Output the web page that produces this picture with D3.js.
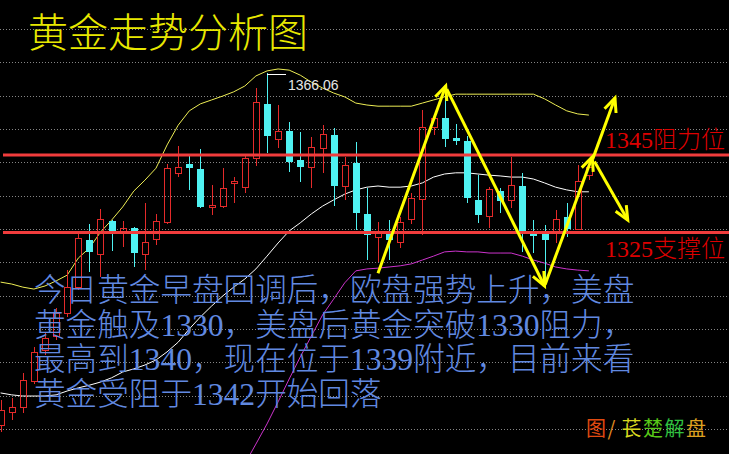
<!DOCTYPE html>
<html>
<head>
<meta charset="utf-8">
<script src="https://cdn.jsdelivr.net/npm/d3@7"></script>
<style>
  html, body { margin: 0; padding: 0; background: #000; overflow: hidden; }
  svg { display: block; }
</style>
</head>
<body>
<svg id="chart" width="729" height="454"></svg>
<script>
// ---- candle data (one entry per bar, oldest first) ----
const opens = [1275.3, 1278.7, 1280.0, 1286.7, 1294.7, 1298.3, 1304.2, 1310.9, 1323.1, 1319.5,
  1328.0, 1325.4, 1326.2, 1319.5, 1323.3, 1327.7, 1340.4, 1342.7, 1341.4, 1331.7,
  1331.8, 1337.8, 1336.7, 1344.2, 1358.2, 1349.1, 1351.2, 1343.7, 1341.9, 1346.8,
  1350.2, 1337.0, 1342.9, 1329.8, 1323.8, 1324.9, 1322.5, 1328.5, 1333.6, 1352.2,
  1354.5, 1349.4, 1348.6, 1333.4, 1329.3, 1335.7, 1333.4, 1337.0, 1324.6, 1324.9,
  1324.9, 1329.0, 1325.9, 1339.8];
const highs = [1281.8, 1282.3, 1288.7, 1295.5, 1299.1, 1305.5, 1315.3, 1325.1, 1327.2, 1331.1,
  1328.2, 1328.0, 1326.4, 1332.6, 1329.8, 1342.7, 1347.3, 1344.7, 1346.5, 1337.3,
  1341.6, 1339.3, 1345.0, 1362.3, 1366.06, 1357.9, 1353.5, 1350.9, 1349.6, 1352.7,
  1352.0, 1344.5, 1348.4, 1336.5, 1327.7, 1328.2, 1329.0, 1335.2, 1356.6, 1355.3,
  1360.0, 1353.0, 1349.9, 1339.8, 1336.7, 1336.5, 1344.5, 1340.4, 1328.2, 1326.9,
  1330.8, 1332.6, 1342.4, 1342.2];
const lows = [1273.5, 1276.6, 1278.4, 1285.9, 1293.4, 1297.3, 1303.2, 1310.2, 1314.8, 1313.5,
  1320.2, 1321.3, 1316.1, 1315.3, 1321.8, 1327.2, 1339.3, 1336.0, 1331.3, 1329.5,
  1331.3, 1332.6, 1335.2, 1342.2, 1345.5, 1346.8, 1340.6, 1338.0, 1336.5, 1340.4,
  1331.8, 1333.4, 1325.6, 1317.9, 1317.4, 1317.9, 1321.0, 1327.2, 1324.4, 1350.2,
  1347.1, 1347.6, 1332.6, 1327.5, 1326.2, 1330.0, 1331.3, 1320.0, 1319.7, 1312.7,
  1322.3, 1323.8, 1325.6, 1338.5];
const closes = [1279.2, 1280.0, 1286.9, 1294.2, 1297.8, 1304.2, 1310.9, 1323.6, 1320.0, 1328.5,
  1325.1, 1326.2, 1319.7, 1322.5, 1328.0, 1341.6, 1341.9, 1341.6, 1331.6, 1332.0,
  1336.5, 1338.2, 1344.2, 1358.7, 1349.9, 1351.2, 1343.2, 1341.9, 1347.1, 1350.4,
  1337.0, 1342.4, 1330.0, 1324.4, 1325.1, 1323.1, 1327.7, 1333.9, 1352.2, 1354.5,
  1349.1, 1348.6, 1333.9, 1329.5, 1336.2, 1333.1, 1337.3, 1324.9, 1324.1, 1323.1,
  1328.5, 1325.9, 1338.3, 1341.9];

// ---- Bollinger bands ----
const upperBand = [1312.2, 1311.7, 1310.9, 1310.4, 1311.2, 1312.5, 1314.0, 1318.4, 1321.0, 1325.1,
  1328.2, 1331.6, 1335.7, 1338.5, 1341.6, 1347.6, 1352.7, 1356.4, 1358.2, 1359.2,
  1360.2, 1361.3, 1362.8, 1365.4, 1366.7, 1367.2, 1366.9, 1365.6, 1363.8, 1362.3,
  1361.0, 1360.0, 1358.4, 1357.9, 1357.6, 1357.6, 1357.6, 1357.6, 1358.4, 1359.2,
  1360.0, 1360.7, 1360.7, 1360.7, 1360.7, 1360.7, 1360.7, 1360.7, 1360.7, 1359.5,
  1357.9, 1356.4, 1355.6, 1355.3];
const midBand = [1283.6, 1283.1, 1282.8, 1282.8, 1282.8, 1283.1, 1284.1, 1284.9, 1285.6, 1286.4,
  1287.5, 1289.0, 1289.8, 1290.8, 1292.1, 1294.2, 1296.7, 1300.1, 1303.2, 1306.0,
  1308.6, 1310.9, 1313.0, 1315.6, 1318.9, 1322.3, 1325.4, 1327.5, 1329.8, 1331.8,
  1333.4, 1334.9, 1336.0, 1336.7, 1337.0, 1336.7, 1336.7, 1337.0, 1337.8, 1339.3,
  1340.1, 1340.4, 1340.4, 1340.1, 1339.8, 1339.6, 1339.3, 1339.3, 1338.8, 1337.8,
  1336.7, 1336.0, 1335.5, 1335.5];
const lowerBand = [null, null, null, null, null, null, null, null, null, null,
  null, null, null, null, null, null, null, null, null, null,
  1255.0, 1259.8, 1265.3, 1270.4, 1275.6, 1281.3, 1287.2, 1292.9, 1298.3, 1303.7,
  1307.8, 1312.0, 1315.1, 1315.6, 1315.8, 1316.1, 1316.4, 1316.9, 1317.9, 1318.9,
  1320.0, 1320.2, 1320.0, 1320.0, 1319.7, 1319.7, 1319.7, 1318.9, 1317.9, 1317.1,
  1316.1, 1315.6, 1315.3, 1315.1];

// ---- key levels ----
const levels = [1345, 1325];
const levelLabels = ["1345阻力位", "1325支撑位"];

// ---- trend arrows: [bar position, price] from tail to head ----
const arrowPaths = [
  [[34.0, 1314.5], [40.1, 1362.8]],
  [[40.2, 1362.0], [49.0, 1311.2]],
  [[49.05, 1311.5], [53.3, 1344.5]],
  [[53.35, 1344.0], [55.35, 1359.7]],
  [[53.5, 1343.3], [56.5, 1328.2]]
];

// ---- text ----
const titleText = "黄金走势分析图";
const noteLines = [
  "今日黄金早盘回调后，欧盘强势上升，美盘",
  "黄金触及1330，美盘后黄金突破1330阻力，",
  "最高到1340，现在位于1339附近，目前来看",
  "黄金受阻于1342开始回落"
];
const creditChars = ["图", "/", "苌", "楚", "解", "盘"];
const creditColors = ["#e04a10", "#e08a20", "#d8d820", "#58c818", "#30c040", "#dca020"];

// ---- drawing ----
const W = 729, H = 454;
const svg = d3.select("#chart");
svg.append("rect").attr("width", W).attr("height", H).attr("fill", "#000");

const x = d3.scaleLinear().domain([0, 53]).range([0.6, 588.9]);
const y = d3.scaleLinear().domain([1385, 1385 - H / 3.875]).range([0, H]);

// dotted background rows
const rowScale = d3.scaleLinear().domain([0, 12]).range([29, 429]);
svg.append("g")
  .selectAll("line")
  .data(d3.range(13))
  .join("line")
  .attr("x1", 0).attr("x2", W)
  .attr("y1", d => Math.round(rowScale(d)) + 0.5)
  .attr("y2", d => Math.round(rowScale(d)) + 0.5)
  .attr("stroke", "#858585")
  .attr("stroke-width", 1)
  .attr("stroke-dasharray", "1 2")
  .attr("shape-rendering", "crispEdges");

// title
svg.append("text")
  .attr("x", 28).attr("y", 47)
  .attr("font-family", "'Noto Sans CJK SC', sans-serif")
  .attr("font-weight", 300)
  .attr("font-size", 40)
  .attr("fill", "#e8e800")
  .text(titleText);

// bands
const bandLine = d3.line()
  .defined(d => d != null)
  .x((d, i) => x(i))
  .y(d => y(d));
const bandGroup = svg.append("g").attr("fill", "none").attr("stroke-width", 1);
bandGroup.append("path").attr("d", bandLine(upperBand)).attr("stroke", "#eeee55");
bandGroup.append("path").attr("d", bandLine(midBand)).attr("stroke", "#ffffff");
bandGroup.append("path").attr("d", bandLine(lowerBand)).attr("stroke", "#cc33cc");

// candles
const bars = opens.map((o, i) => ({ i, o, h: highs[i], l: lows[i], c: closes[i] }));
const UP = "#e42a2a", DOWN = "#4ff2f2";
const cg = svg.append("g").attr("shape-rendering", "crispEdges");
const candle = cg.selectAll("g").data(bars).join("g");

candle.each(function (d) {
  const g = d3.select(this);
  const cx = Math.round(x(d.i));
  const top = Math.round(y(Math.max(d.o, d.c)));
  const bot = Math.round(y(Math.min(d.o, d.c)));
  const hi = Math.round(y(d.h));
  const lo = Math.round(y(d.l));
  if (d.c >= d.o) {
    g.append("line").attr("x1", cx + 0.5).attr("x2", cx + 0.5)
      .attr("y1", hi).attr("y2", top).attr("stroke", UP);
    g.append("line").attr("x1", cx + 0.5).attr("x2", cx + 0.5)
      .attr("y1", bot).attr("y2", lo).attr("stroke", UP);
    g.append("rect")
      .attr("x", cx - 2.5).attr("y", top + 0.5)
      .attr("width", 6).attr("height", Math.max(bot - top, 0))
      .attr("fill", "none").attr("stroke", UP);
  } else {
    g.append("line").attr("x1", cx + 0.5).attr("x2", cx + 0.5)
      .attr("y1", hi).attr("y2", lo).attr("stroke", DOWN);
    g.append("rect")
      .attr("x", cx - 3).attr("y", top)
      .attr("width", 7).attr("height", Math.max(bot - top, 1))
      .attr("fill", DOWN);
  }
});

// highest bar marker
const peakIndex = d3.maxIndex(highs);
const peakX = Math.round(x(peakIndex));
const peakY = Math.round(y(highs[peakIndex])) + 1.5;
svg.append("line")
  .attr("x1", peakX).attr("x2", peakX + 19)
  .attr("y1", peakY).attr("y2", peakY)
  .attr("stroke", "#ffffff").attr("shape-rendering", "crispEdges");
svg.append("text")
  .attr("x", peakX + 21).attr("y", peakY + 15)
  .attr("font-family", "'Liberation Sans', Arial, sans-serif")
  .attr("font-size", 14)
  .attr("fill", "#e6e6e6")
  .text(d3.format(".2f")(highs[peakIndex]));

// support / resistance lines
svg.append("g")
  .selectAll("line")
  .data(levels)
  .join("line")
  .attr("x1", 3).attr("x2", W)
  .attr("y1", d => y(d)).attr("y2", d => y(d))
  .attr("stroke", "#f03c3c")
  .attr("stroke-width", 3);

svg.append("g")
  .selectAll("text")
  .data(levels)
  .join("text")
  .attr("x", 605)
  .attr("y", (d, i) => y(d) + (i === 0 ? -7.5 : 24))
  .attr("font-family", "'Liberation Serif', 'Noto Sans CJK SC', serif")
  .attr("font-weight", 300)
  .attr("font-size", 24)
  .attr("fill", "#dd0000")
  .text((d, i) => levelLabels[i]);

// commentary
svg.append("g")
  .selectAll("text")
  .data(noteLines)
  .join("text")
  .attr("x", 34)
  .attr("y", (d, i) => 301 + i * 34.5)
  .attr("font-family", "'Liberation Serif', 'Noto Sans CJK SC', serif")
  .attr("font-weight", 300)
  .attr("font-size", 31.6)
  .attr("fill", "#6189e0")
  .text(d => d);

// trend arrows
const ag = svg.append("g")
  .attr("fill", "none")
  .attr("stroke", "#ffff00")
  .attr("stroke-width", 3)
  .attr("stroke-linejoin", "miter");
arrowPaths.forEach(([from, to]) => {
  const x0 = x(from[0]), y0 = y(from[1]);
  const x1 = x(to[0]), y1 = y(to[1]);
  const ang = Math.atan2(y1 - y0, x1 - x0);
  const len = 15, spread = 0.42;
  ag.append("line").attr("x1", x0).attr("y1", y0).attr("x2", x1).attr("y2", y1);
  const b1 = [x1 - len * Math.cos(ang - spread), y1 - len * Math.sin(ang - spread)];
  const b2 = [x1 - len * Math.cos(ang + spread), y1 - len * Math.sin(ang + spread)];
  ag.append("path").attr("d", `M${b1[0]},${b1[1]}L${x1},${y1}L${b2[0]},${b2[1]}`);
});

// credit line
const credit = svg.append("text")
  .attr("y", 436)
  .attr("font-family", "'Noto Sans CJK SC', sans-serif")
  .attr("font-size", 20);
let cx0 = 586;
creditChars.forEach((ch, i) => {
  credit.append("tspan").attr("x", cx0).attr("fill", creditColors[i]).text(ch);
  cx0 += ch === "/" ? 14 : 21.5;
});
</script>
</body>
</html>
